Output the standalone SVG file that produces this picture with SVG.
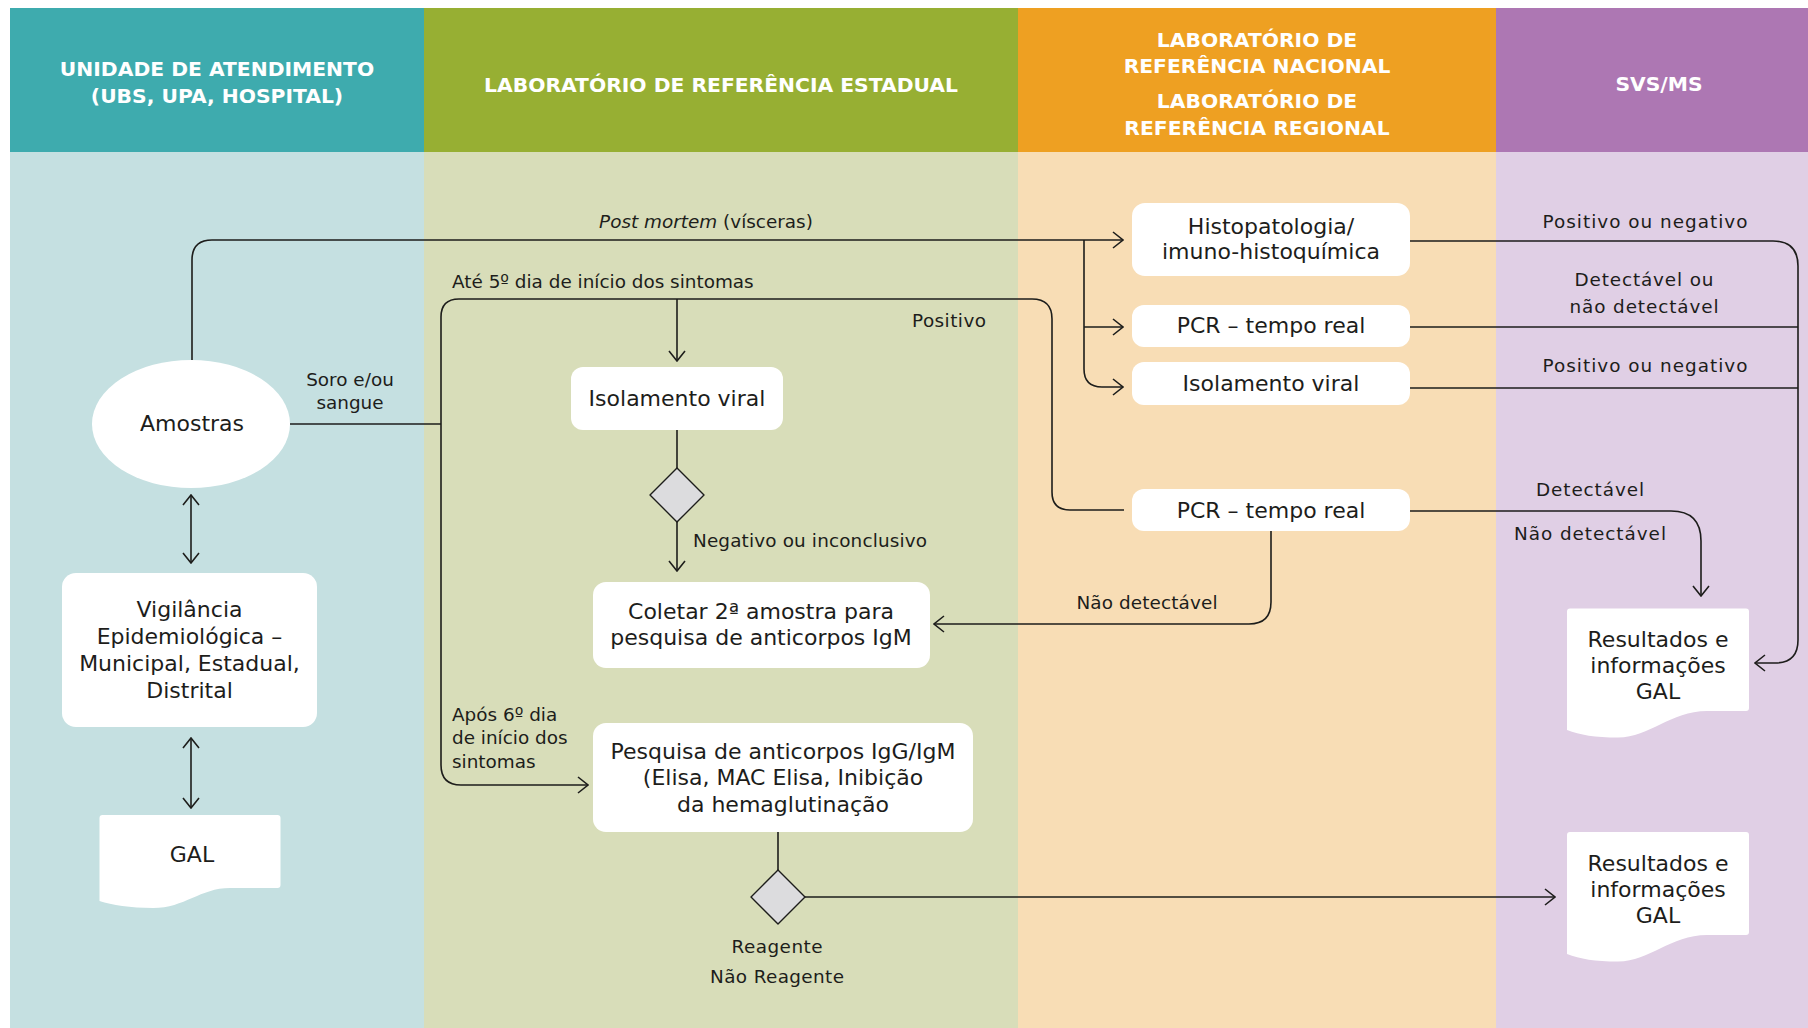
<svg xmlns="http://www.w3.org/2000/svg" width="1808" height="1028" viewBox="0 0 1808 1028">
  <style>
    .hdr { font-family: "DejaVu Sans", "Liberation Sans", sans-serif; font-weight: bold; font-size: 20.3px; fill: #ffffff; text-anchor: middle; }
    .box { fill: #ffffff; }
    .txt { font-family: "DejaVu Sans", "Liberation Sans", sans-serif; font-size: 22px; fill: #1d1d1b; text-anchor: middle; }
    .lbl { font-family: "DejaVu Sans", "Liberation Sans", sans-serif; font-size: 18.4px; fill: #1d1d1b; }
    .mid { text-anchor: middle; }
    .dia { fill: #dcdcde; stroke: #1d1d1b; stroke-width: 1.4; stroke-linejoin: round; }
    .ln { fill: none; stroke: #1d1d1b; stroke-width: 1.6; }
    .ar { marker-end: url(#arr); }
    .ar2 { marker-start: url(#arr); marker-end: url(#arr); }
  </style>
  <defs>
    <marker id="arr" viewBox="0 0 12 18" refX="11" refY="9" markerWidth="12" markerHeight="18" markerUnits="userSpaceOnUse" orient="auto-start-reverse">
      <path d="M1 1 L11 9 L1 17" fill="none" stroke="#1d1d1b" stroke-width="1.6"/>
    </marker>
  </defs>

  <rect width="1808" height="1028" fill="#ffffff"/>

  <!-- swimlanes -->
  <g id="lanes">
    <rect x="10" y="152" width="414" height="876" fill="#c5e0e1"/>
    <rect x="424" y="152" width="594" height="876" fill="#d8ddb9"/>
    <rect x="1018" y="152" width="478" height="876" fill="#f8ddb5"/>
    <rect x="1496" y="152" width="312" height="876" fill="#e0cfe5"/>
    <rect x="10" y="8" width="414" height="144" fill="#3eabae"/>
    <rect x="424" y="8" width="594" height="144" fill="#97af33"/>
    <rect x="1018" y="8" width="478" height="144" fill="#eea022"/>
    <rect x="1496" y="8" width="312" height="144" fill="#ad77b3"/>
    <text class="hdr" x="217" y="76">UNIDADE DE ATENDIMENTO</text>
    <text class="hdr" x="217" y="103">(UBS, UPA, HOSPITAL)</text>
    <text class="hdr" x="721" y="91.5">LABORATÓRIO DE REFERÊNCIA ESTADUAL</text>
    <text class="hdr" x="1257" y="47">LABORATÓRIO DE</text>
    <text class="hdr" x="1257" y="73">REFERÊNCIA NACIONAL</text>
    <text class="hdr" x="1257" y="108">LABORATÓRIO DE</text>
    <text class="hdr" x="1257" y="135">REFERÊNCIA REGIONAL</text>
    <text class="hdr" x="1659" y="90.5">SVS/MS</text>
  </g>

  <!-- connectors -->
  <g id="connectors">
    <path class="ln ar" d="M192 360 V260 Q192 240 212 240 H1123"/>
    <path class="ln ar" d="M1084 240 V369 Q1084 387 1102 387 H1123"/>
    <path class="ln ar" d="M1084 327 H1123"/>
    <path class="ln" d="M290 424 H441"/>
    <path class="ln" d="M1124 510 H1070 Q1052 510 1052 492 V319 Q1052 299 1032 299 H459 Q441 299 441 317 V765"/>
    <path class="ln ar" d="M441 765 Q441 785 461 785 H588"/>
    <path class="ln ar" d="M677 299 V361"/>
    <path class="ln" d="M677 430 V468"/>
    <path class="ln ar" d="M677 522 V571"/>
    <path class="ln ar" d="M1271 531 V602 Q1271 624 1249 624 H934"/>
    <path class="ln ar" d="M1410 511 H1671 Q1701 511 1701 541 V596"/>
    <path class="ln ar" d="M1410 241 H1773 Q1798 241 1798 266 V640 Q1798 663 1775 663 H1755"/>
    <path class="ln" d="M1410 327 H1798"/>
    <path class="ln" d="M1410 388 H1798"/>
    <path class="ln" d="M778 832 V870"/>
    <path class="ln ar" d="M805 897 H1555"/>
    <path class="ln ar2" d="M191 495 V563"/>
    <path class="ln ar2" d="M191 738 V808"/>

    <text class="lbl mid" x="706" y="228"><tspan font-style="italic">Post mortem</tspan> (vísceras)</text>
    <text class="lbl" x="452" y="288">Até 5º dia de início dos sintomas</text>
    <text class="lbl" x="912" y="327" textLength="74">Positivo</text>
    <text class="lbl mid" x="350" y="386">Soro e/ou</text>
    <text class="lbl mid" x="350" y="409">sangue</text>
    <text class="lbl" x="693" y="547" textLength="234">Negativo ou inconclusivo</text>
    <text class="lbl" x="452" y="721">Após 6º dia</text>
    <text class="lbl" x="452" y="744">de início dos</text>
    <text class="lbl" x="452" y="768">sintomas</text>
    <text class="lbl mid" x="777" y="953" textLength="91">Reagente</text>
    <text class="lbl mid" x="777" y="983" textLength="134">Não Reagente</text>
    <text class="lbl mid" x="1147" y="609" textLength="141">Não detectável</text>
    <text class="lbl mid" x="1645" y="228" textLength="205">Positivo ou negativo</text>
    <text class="lbl mid" x="1644" y="286" textLength="139">Detectável ou</text>
    <text class="lbl mid" x="1644" y="313" textLength="149">não detectável</text>
    <text class="lbl mid" x="1645" y="372" textLength="205">Positivo ou negativo</text>
    <text class="lbl mid" x="1590" y="496" textLength="108">Detectável</text>
    <text class="lbl mid" x="1590" y="540" textLength="152">Não detectável</text>
  </g>

  <!-- nodes -->
  <g id="amostras">
    <ellipse class="box" cx="191" cy="424" rx="99" ry="64"/>
    <text class="txt" x="192" y="431">Amostras</text>
  </g>
  <g id="vigilancia">
    <rect class="box" x="62" y="573" width="255" height="154" rx="14"/>
    <text class="txt" x="189.5" y="617">Vigilância</text>
    <text class="txt" x="189.5" y="644">Epidemiológica –</text>
    <text class="txt" x="189.5" y="671">Municipal, Estadual,</text>
    <text class="txt" x="189.5" y="698">Distrital</text>
  </g>
  <g id="gal">
    <path class="box" d="M99.5 818 Q99.5 815 102.5 815 H277.5 Q280.5 815 280.5 818 V885 Q280.5 888 277.5 888 H230 C200 888 185 908 153 908 C130 908 112 905 99.5 901 Z"/>
    <text class="txt" x="192" y="862">GAL</text>
  </g>
  <g id="isolamento-estadual">
    <rect class="box" x="571" y="367" width="212" height="63" rx="12"/>
    <text class="txt" x="677" y="406">Isolamento viral</text>
  </g>
  <g id="decisao-isolamento">
    <path class="dia" d="M677 468 L704 495 L677 522 L650 495 Z"/>
  </g>
  <g id="coletar">
    <rect class="box" x="593" y="582" width="337" height="86" rx="13"/>
    <text class="txt" x="761" y="619">Coletar 2ª amostra para</text>
    <text class="txt" x="761" y="645">pesquisa de anticorpos IgM</text>
  </g>
  <g id="pesquisa">
    <rect class="box" x="593" y="723" width="380" height="109" rx="13"/>
    <text class="txt" x="783" y="759">Pesquisa de anticorpos IgG/IgM</text>
    <text class="txt" x="783" y="785">(Elisa, MAC Elisa, Inibição</text>
    <text class="txt" x="783" y="812">da hemaglutinação</text>
  </g>
  <g id="decisao-pesquisa">
    <path class="dia" d="M778 870 L805 897 L778 924 L751 897 Z"/>
  </g>
  <g id="histopatologia">
    <rect class="box" x="1132" y="203" width="278" height="73" rx="13"/>
    <text class="txt" x="1271" y="234">Histopatologia/</text>
    <text class="txt" x="1271" y="259">imuno-histoquímica</text>
  </g>
  <g id="pcr-nacional">
    <rect class="box" x="1132" y="305" width="278" height="42" rx="12"/>
    <text class="txt" x="1271" y="333">PCR – tempo real</text>
  </g>
  <g id="isolamento-nacional">
    <rect class="box" x="1132" y="362" width="278" height="43" rx="12"/>
    <text class="txt" x="1271" y="391">Isolamento viral</text>
  </g>
  <g id="pcr-regional">
    <rect class="box" x="1132" y="489" width="278" height="42" rx="12"/>
    <text class="txt" x="1271" y="518">PCR – tempo real</text>
  </g>
  <g id="resultados-1">
    <path class="box" d="M1567 611.5 Q1567 608.5 1570 608.5 H1746 Q1749 608.5 1749 611.5 V708 Q1749 711 1746 711 H1707 C1670 711 1650 737.5 1618 737.5 C1595 737.5 1580 735 1567 730 Z"/>
    <text class="txt" x="1658" y="647">Resultados e</text>
    <text class="txt" x="1658" y="673">informações</text>
    <text class="txt" x="1658" y="699">GAL</text>
  </g>
  <g id="resultados-2">
    <path class="box" d="M1567 835 Q1567 832 1570 832 H1746 Q1749 832 1749 835 V932 Q1749 935 1746 935 H1707 C1670 935 1650 961.5 1618 961.5 C1595 961.5 1580 959 1567 954 Z"/>
    <text class="txt" x="1658" y="871">Resultados e</text>
    <text class="txt" x="1658" y="897">informações</text>
    <text class="txt" x="1658" y="923">GAL</text>
  </g>
</svg>
